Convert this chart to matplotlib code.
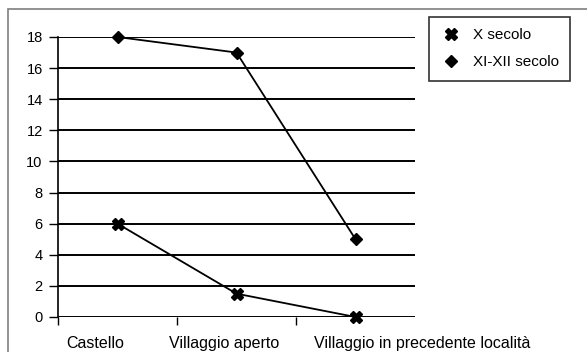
import matplotlib
matplotlib.use("Agg")
import matplotlib.pyplot as plt
from matplotlib.lines import Line2D
from matplotlib.patches import Rectangle
from matplotlib.transforms import blended_transform_factory, offset_copy

plt.rcParams['font.family'] = ['Liberation Sans', 'DejaVu Sans']

categories = ["Castello", "Villaggio aperto", "Villaggio in precedente località"]
x_secolo = [6, 1.5, 0]
xi_xii_secolo = [18, 17, 5]
y_ticks = [0, 2, 4, 6, 8, 10, 12, 14, 16, 18]
series_names = ["X secolo", "XI-XII secolo"]

W, H = 587, 352
fig = plt.figure(figsize=(W / 100, H / 100), dpi=100)
ax = fig.add_axes([58 / W, 1 - 317 / H, (415 - 58) / W, (317 - 37) / H])

xs = list(range(len(categories)))
ax.plot(xs, x_secolo, color="black", lw=1.3, marker="X", ms=9,
        mfc="black", mec="black", zorder=4, clip_on=False)
ax.plot(xs, xi_xii_secolo, color="black", lw=1.3, marker="D", ms=6.5,
        mfc="black", mec="black", zorder=4, clip_on=False)

ax.set_xlim(-0.5, 2.5)
ax.set_ylim(0, 18)
ax.set_yticks(y_ticks)
ax.set_yticklabels([str(v) for v in y_ticks], fontsize=10.5)
ax.yaxis.grid(True, color="black", lw=1.4)
ax.set_axisbelow(True)
ax.tick_params(axis="y", length=6.5, width=1, pad=4.5, color="black")

ax.set_xticks([-0.5, 0.5, 1.5])
ax.set_xticklabels([])
ax.tick_params(axis="x", length=6, width=1, color="black")

for side in ("top", "right", "bottom"):
    ax.spines[side].set_visible(False)
ax.spines["left"].set_linewidth(1.2)

# category labels, placed below the axis with small horizontal shifts
label_shift_pts = [-16, -9, 48]
trans = blended_transform_factory(ax.transData, ax.transAxes)
for i, (name, dx) in enumerate(zip(categories, label_shift_pts)):
    t = offset_copy(trans, fig=fig, x=dx, y=-13.5, units="points")
    ax.text(i, 0, name, transform=t, ha="center", va="top", fontsize=11.5)

handles = [
    Line2D([], [], ls="none", marker="X", ms=9, color="black"),
    Line2D([], [], ls="none", marker="D", ms=6, color="black"),
]
leg = fig.legend(handles, series_names, loc="upper left",
                 bbox_to_anchor=(429 / W, 1 - 17 / H), fontsize=11,
                 frameon=True, fancybox=False, edgecolor="black",
                 handlelength=1.4, handletextpad=0.7, borderpad=0.75,
                 labelspacing=0.85, borderaxespad=0)
leg.get_frame().set_linewidth(1.2)

# outer chart frame (top and left edges fall inside the image)
fig.patches.append(Rectangle((8 / W, -0.1), 1.2, 1.1 - 9 / H,
                             transform=fig.transFigure, fill=False,
                             edgecolor="#7f7f7f", lw=1.2))

fig.savefig("out.png", dpi=100)
